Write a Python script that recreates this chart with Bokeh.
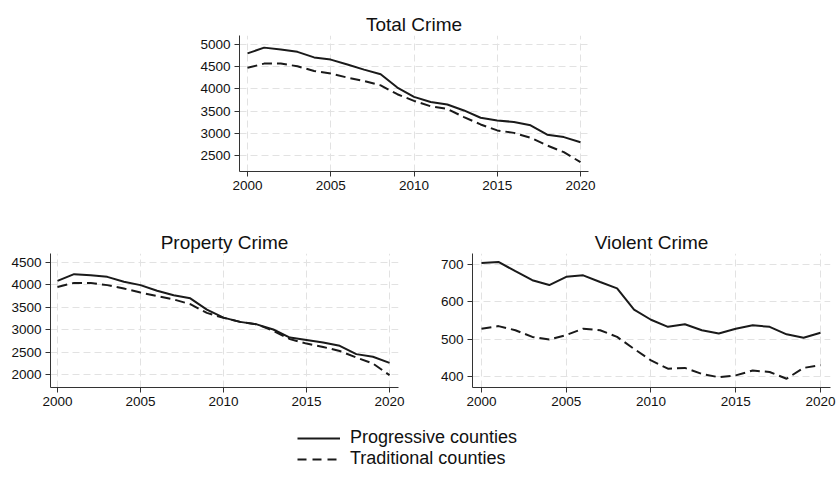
from bokeh.plotting import figure
from bokeh.layouts import column, row
from bokeh.models import Spacer, Range1d, FixedTicker, Legend, LegendItem, ColumnDataSource
from bokeh.embed import file_html
from bokeh.resources import INLINE

years = list(range(2000, 2021))

total_prog = [4800, 4930, 4890, 4835, 4710, 4660, 4550, 4435, 4330, 4030, 3820,
              3705, 3650, 3515, 3350, 3290, 3255, 3180, 2970, 2915, 2800]
total_trad = [4475, 4570, 4570, 4510, 4405, 4345, 4255, 4180, 4080, 3880, 3730,
              3610, 3550, 3365, 3200, 3065, 3010, 2900, 2725, 2575, 2350]

prop_prog = [4090, 4240, 4215, 4180, 4070, 3995, 3870, 3770, 3700, 3450, 3270,
             3175, 3120, 3005, 2825, 2770, 2715, 2640, 2455, 2395, 2260]
prop_trad = [3955, 4045, 4045, 3995, 3920, 3830, 3750, 3675, 3570, 3375, 3265,
             3175, 3120, 2975, 2790, 2690, 2615, 2525, 2380, 2245, 1985]

viol_prog = [704, 707, 682, 658, 645, 667, 671, 653, 636, 579, 552,
             533, 540, 524, 515, 528, 537, 533, 513, 504, 517]
viol_trad = [528, 535, 524, 506, 499, 511, 528, 524, 506, 474, 443,
             421, 423, 407, 398, 403, 416, 412, 394, 423, 430]

series_names = ["Progressive counties", "Traditional counties"]
x_ticks = [2000, 2005, 2010, 2015, 2020]
total_ticks = [2500, 3000, 3500, 4000, 4500, 5000]
prop_ticks = [2000, 2500, 3000, 3500, 4000, 4500]
viol_ticks = [400, 500, 600, 700]

FONT = "Liberation Sans"
INK = "#1a1a1a"
DASH = "10 5"


def panel(title, prog, trad, yticks, xr, yr, fw, fh, bl, br, bt, bb):
    p = figure(frame_width=fw, frame_height=fh, output_backend="svg",
               toolbar_location=None, x_range=Range1d(*xr), y_range=Range1d(*yr),
               min_border_left=bl, min_border_right=br, min_border_top=bt,
               min_border_bottom=bb, title=title)
    p.title.align = "center"
    p.title.text_font = FONT
    p.title.text_font_size = "19px"
    p.title.text_font_style = "normal"
    p.title.text_color = "#111111"
    p.title.standoff = 2
    p.outline_line_color = None
    p.background_fill_color = "white"
    p.border_fill_color = "white"
    src = ColumnDataSource(dict(x=years, prog=prog, trad=trad))
    p.line("x", "prog", source=src, line_color=INK, line_width=2)
    p.line("x", "trad", source=src, line_color=INK, line_width=2, line_dash=DASH)
    p.xaxis.ticker = FixedTicker(ticks=x_ticks)
    p.yaxis.ticker = FixedTicker(ticks=yticks)
    for ax in (p.xaxis, p.yaxis):
        ax.axis_line_color = "#333333"
        ax.axis_line_width = 1
        ax.major_tick_line_color = "#333333"
        ax.major_tick_out = 5
        ax.major_tick_in = 0
        ax.minor_tick_line_color = None
        ax.major_label_text_font = FONT
        ax.major_label_text_font_size = "13.5px"
        ax.major_label_text_color = "#111111"
        ax.major_label_standoff = 4
    p.grid.grid_line_color = "#e2e2e2"
    p.grid.grid_line_dash = "7 4"
    p.grid.grid_line_width = 1
    return p


p1 = panel("Total Crime", total_prog, total_trad, total_ticks,
           (1999.52, 2020.48), (2140, 5203), 349, 136, 60, 10, 35, 40)
p2 = panel("Property Crime", prop_prog, prop_trad, prop_ticks,
           (1999.58, 2020.54), (1710, 4701), 348, 134, 50, 24, 42, 35)
p3 = panel("Violent Crime", viol_prog, viol_trad, viol_ticks,
           (1999.47, 2020.59), (370.5, 729.5), 358, 134, 50, 7, 42, 35)

# legend strip: series drawn off-screen (range far from data), shown only as legend keys
pl = figure(width=837, height=68, output_backend="svg", toolbar_location=None,
            x_range=Range1d(0, 1), y_range=Range1d(0, 1),
            x_axis_location=None, y_axis_location=None,
            min_border_left=0, min_border_right=0, min_border_top=0, min_border_bottom=0)
pl.outline_line_color = None
pl.grid.visible = False
lsrc = ColumnDataSource(dict(x=years, prog=total_prog, trad=total_trad))
r1 = pl.line("x", "prog", source=lsrc, line_color=INK, line_width=2)
r2 = pl.line("x", "trad", source=lsrc, line_color=INK, line_width=2, line_dash="9 6")
leg = Legend(items=[LegendItem(label=series_names[0], renderers=[r1]),
                    LegendItem(label=series_names[1], renderers=[r2])],
             location=(297, 21), orientation="vertical")
leg.label_text_font = FONT
leg.label_text_font_size = "18px"
leg.label_text_color = "#111111"
leg.glyph_width = 43
leg.glyph_height = 20
leg.label_height = 20
leg.label_standoff = 10
leg.spacing = 0
leg.padding = 0
leg.margin = 0
leg.border_line_color = None
leg.background_fill_alpha = 0
pl.add_layout(leg)

top = row(Spacer(width=179, height=211), p1, spacing=0)
mid = row(p2, p3, spacing=0)
layout = column(top, mid, pl, spacing=0)

open("out.html", "w").write(file_html(layout, INLINE))
